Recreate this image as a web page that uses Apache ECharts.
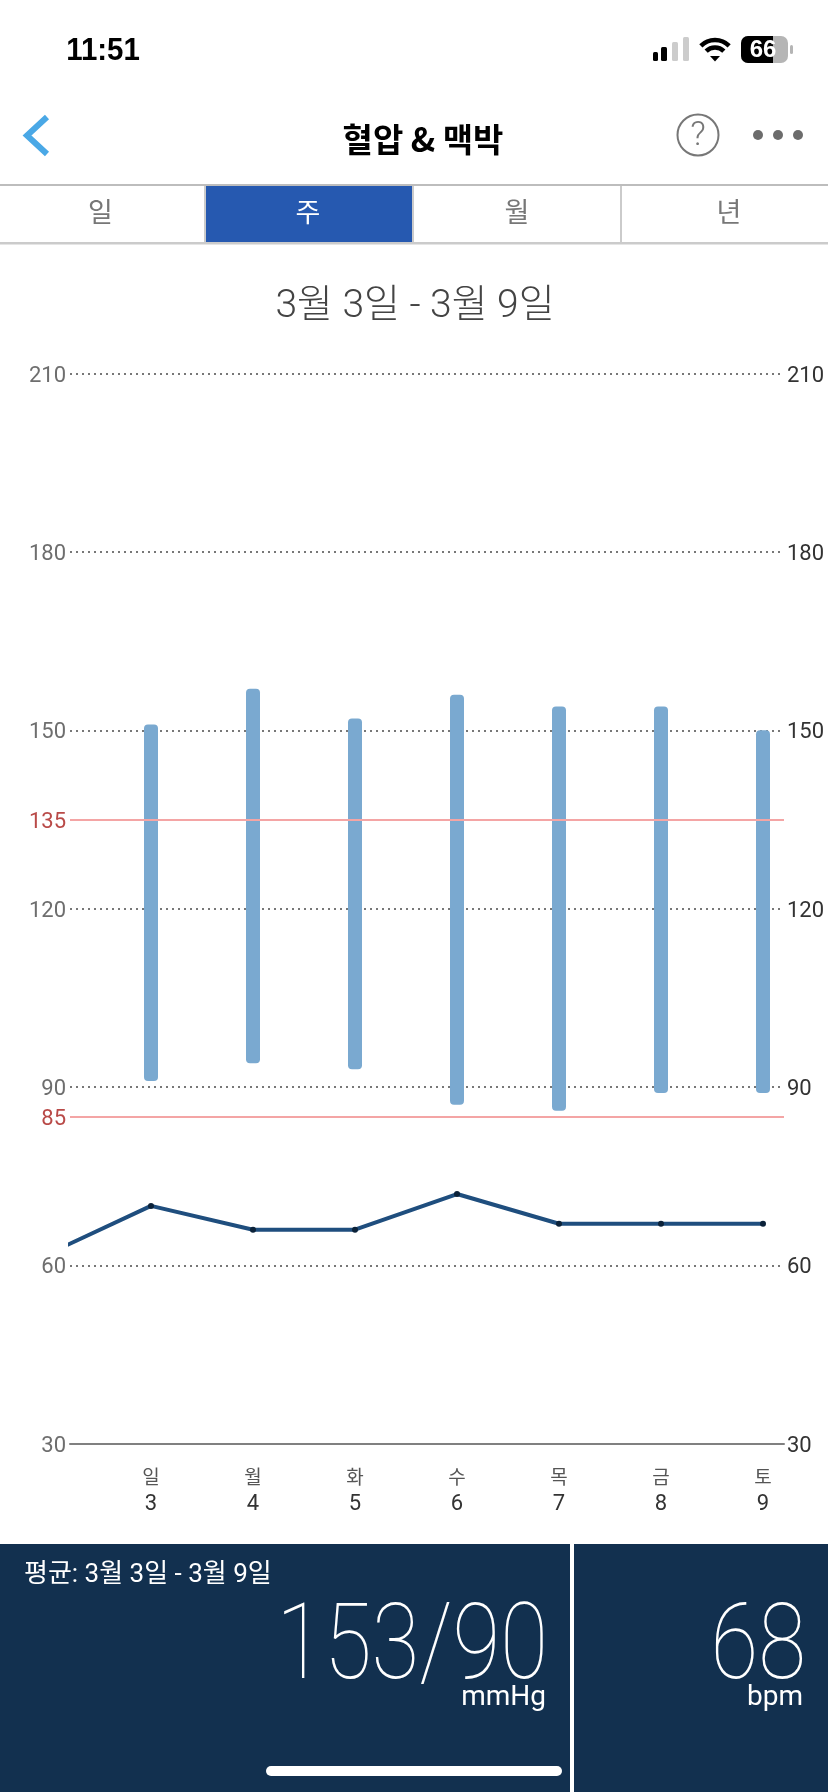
<!DOCTYPE html>
<html lang="ko">
<head>
<meta charset="utf-8">
<title>혈압 & 맥박</title>
<style>
  html, body { margin: 0; padding: 0; background: #fff; }
  #chart { width: 828px; height: 1792px; }
</style>
<script src="https://cdn.jsdelivr.net/npm/echarts@6/dist/echarts.min.js"></script>
</head>
<body>
<div id="chart"></div>
<script>
const days = [3, 4, 5, 6, 7, 8, 9];
const weekdays = ['일', '월', '화', '수', '목', '금', '토'];
const systolic = [151, 157, 152, 156, 154, 154, 150];
const diastolic = [91, 94, 93, 87, 86, 89, 89];
// the pulse line comes in from the day before the visible week
const pulseDays = [2, 3, 4, 5, 6, 7, 8, 9];
const pulse = [62, 70, 66, 66, 72, 67, 67, 67];
const limits = [135, 85];
const tabs = ['일', '주', '월', '년'];

const sansKr = 'Roboto, "Noto Sans CJK KR"';

const label = (text, x, y, fontSize, fill, extra = {}, style = {}) => ({
  type: 'text', x, y, silent: true, ...extra,
  style: { text, fill, fontSize, fontFamily: sansKr, align: 'center', verticalAlign: 'middle', ...style }
});
const box = (x, y, width, height, fill, r = 0) => ({
  type: 'rect', silent: true, shape: { x, y, width, height, r }, style: { fill }
});
const wifiArc = (r) => ({
  type: 'arc', silent: true,
  shape: { cx: 715, cy: 60, r, startAngle: -Math.PI * 0.75, endAngle: -Math.PI * 0.25 },
  style: { stroke: '#000', fill: 'none', lineWidth: 4.5 }
});

const chrome = [
  // status bar
  label('11:51', 103, 51, 31, '#000', { scaleX: 0.95 }, { fontFamily: '"Liberation Sans"', fontWeight: 'bold' }),
  box(653, 52, 5, 9, '#000', 1.5),
  box(661, 47, 6, 14, '#000', 1.5),
  box(672, 42, 6, 19, '#ccc', 1.5),
  box(683, 37, 6, 24, '#ccc', 1.5),
  wifiArc(20),
  wifiArc(12.5),
  { type: 'polygon', silent: true, shape: { points: [[710, 56], [720, 56], [715, 61.5]] }, style: { fill: '#000' } },
  box(741, 36, 47, 27, '#b5b5b5', 7),
  box(741, 36, 32, 27, '#000', [7, 0, 0, 7]),
  box(790, 45, 3, 9, '#b5b5b5', 1.5),
  label('66', 763, 50, 24, '#fff', {}, { fontFamily: '"Liberation Sans"', fontWeight: 'bold' }),

  // nav bar
  { type: 'polyline', silent: true, shape: { points: [[47, 117], [27, 135.5], [47, 154]] },
    style: { stroke: '#4aa8e6', lineWidth: 6, fill: 'none' } },
  label('혈압 & 맥박', 423, 139, 33, '#000', {}, { fontWeight: 'bold', fontFamily: '"Noto Sans CJK KR"' }),
  { type: 'circle', silent: true, shape: { cx: 698, cy: 135, r: 20.5 }, style: { fill: 'none', stroke: '#777', lineWidth: 2 } },
  label('?', 698, 136, 34, '#777', {}, { fontWeight: 300 }),
  { type: 'circle', silent: true, shape: { cx: 758, cy: 135, r: 5 }, style: { fill: '#6c6c6c' } },
  { type: 'circle', silent: true, shape: { cx: 778, cy: 135, r: 5 }, style: { fill: '#6c6c6c' } },
  { type: 'circle', silent: true, shape: { cx: 798, cy: 135, r: 5 }, style: { fill: '#6c6c6c' } },

  // tabs
  box(0, 184, 828, 2, '#bdbdbd'),
  box(0, 242, 828, 2.5, '#cbcbcb'),
  box(204, 186, 2, 56, '#cbcbcb'),
  box(206, 186, 206, 56, '#2659b0'),
  box(412, 186, 2, 56, '#cbcbcb'),
  box(620, 186, 2, 56, '#cbcbcb'),
  label(tabs[0], 100.5, 215, 27, '#777'),
  label(tabs[1], 308, 215, 27, '#fff'),
  label(tabs[2], 517, 215, 27, '#777'),
  label(tabs[3], 729, 215, 27, '#777'),

  // date range
  label('3월 3일 - 3월 9일', 415, 307, 39, '#444', {}, { fontWeight: 300 }),

  // bottom panel
  box(0, 1544, 570, 248, '#12304f'),
  box(574, 1544, 254, 248, '#12304f'),
  label('평균: 3월 3일 - 3월 9일', 24, 1575, 26, '#fff', {}, { align: 'left' }),
  label('153/90', 548, 1652, 105, '#fff', { scaleX: 0.83 }, { align: 'right', fontWeight: 100 }),
  label('mmHg', 546, 1698, 28, '#fff', {}, { align: 'right' }),
  label('68', 806, 1652, 105, '#fff', { scaleX: 0.83 }, { align: 'right', fontWeight: 100 }),
  label('bpm', 803, 1698, 28, '#fff', {}, { align: 'right' }),
  box(266, 1766, 296, 10, '#fff', 5)
];

// top-aligned with a short line box, which puts the digits a little below the tick
const valueAxis = (labelColor, margin, showGrid) => ({
  type: 'value',
  min: 30,
  max: 210,
  interval: 30,
  axisLine: { show: false },
  axisTick: { show: false },
  axisLabel: { color: labelColor, fontSize: 22, fontFamily: 'Roboto', margin, verticalAlign: 'top', lineHeight: 5 },
  splitLine: {
    show: showGrid,
    lineStyle: { color: '#777', width: 2, type: [2, 4] }
  }
});

const chart = echarts.init(document.getElementById('chart'), null, { renderer: 'canvas' });
chart.setOption({
  animation: false,
  backgroundColor: '#fff',
  graphic: { elements: chrome },
  grid: { left: 70, top: 373.7, width: 714, height: 1070 },
  xAxis: {
    type: 'value',
    // 102px per day, the plot starts 81px before the first day
    min: 3 - 81 / 102,
    max: 3 - 81 / 102 + 7,
    axisLine: { show: true, onZero: false, lineStyle: { color: '#808080', width: 2 } },
    axisTick: { show: false },
    splitLine: { show: false },
    axisLabel: {
      customValues: days,
      margin: 23,
      formatter: (v) => `{wd|${weekdays[days.indexOf(v)]}}\n{num|${v}}`,
      rich: {
        wd: { fontSize: 19, color: '#555', fontFamily: sansKr, lineHeight: 25 },
        num: { fontSize: 22, color: '#333', fontFamily: 'Roboto', lineHeight: 25 }
      }
    }
  },
  yAxis: [valueAxis('#6e6e6e', 4, true), valueAxis('#333', 3, false)],
  series: [
    {
      name: '기준',
      type: 'line',
      data: [],
      z: 1,
      markLine: {
        silent: true,
        symbol: 'none',
        animation: false,
        lineStyle: { color: '#f4a5a5', width: 2, type: 'solid' },
        label: { position: 'start', distance: 4, color: '#b94a48', fontSize: 22, fontFamily: 'Roboto', formatter: '{c}', verticalAlign: 'top', lineHeight: 5 },
        data: limits.map((v) => ({ yAxis: v }))
      }
    },
    {
      name: '혈압',
      type: 'custom',
      z: 2,
      encode: { x: 0, y: [1, 2] },
      data: days.map((d, i) => [d, diastolic[i], systolic[i]]),
      renderItem: (params, api) => {
        const top = api.coord([api.value(0), api.value(2)]);
        const bottom = api.coord([api.value(0), api.value(1)]);
        return {
          type: 'rect',
          shape: { x: top[0] - 7, y: top[1], width: 14, height: bottom[1] - top[1], r: 4 },
          style: { fill: '#7aa9d0' }
        };
      }
    },
    {
      name: '맥박',
      type: 'line',
      z: 3,
      clip: true,
      data: pulseDays.map((d, i) => [d, pulse[i]]),
      symbol: 'circle',
      symbolSize: 6,
      showAllSymbol: true,
      lineStyle: { color: '#1f4e7e', width: 4 },
      itemStyle: { color: '#0b2239' }
    }
  ]
});
</script>
</body>
</html>
